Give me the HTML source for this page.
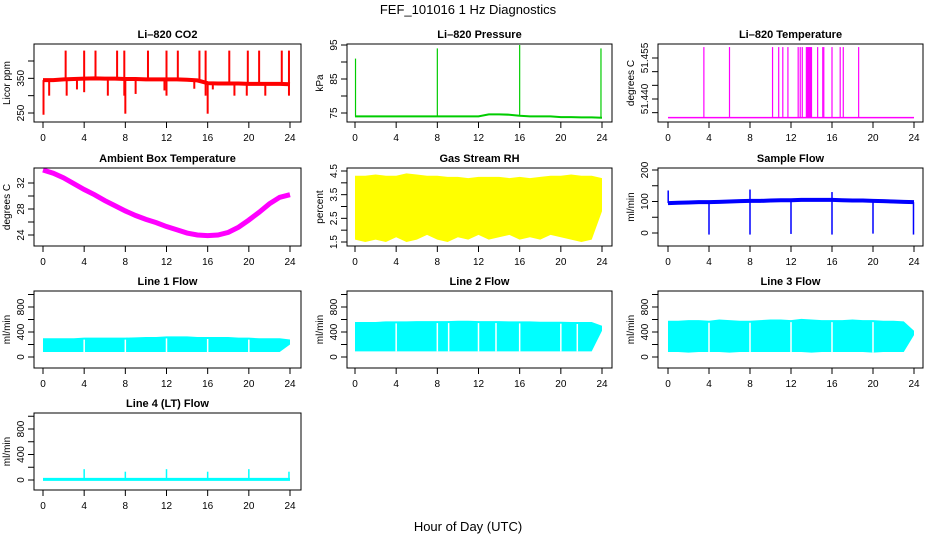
<!DOCTYPE html>
<html><head><meta charset="utf-8"><style>
html,body{margin:0;padding:0;background:#fff}
svg{display:block;font-family:"Liberation Sans",sans-serif}
</style></head><body>
<svg id="c" width="936" height="540" viewBox="0 0 936 540">
<text x="468" y="14" text-anchor="middle" font-size="13">FEF_101016  1 Hz Diagnostics</text>
<text x="468" y="531" text-anchor="middle" font-size="13">Hour of Day (UTC)</text>
</svg>
<script>
const hours=[0,1,2,3,4,5,6,7,8,9,10,11,12,13,14,15,16,17,18,19,20,21,22,23,24];
const xTicks=[0,4,8,12,16,20,24];
// CO2
const co2Base=[345,345,347,348,349,350,349,349,348,348,347,347,347,347,346,344,336,335,335,335,334,334,334,334,333];
const co2SpikeH=[2.2,4.0,5.1,7.2,7.9,10.2,12.0,13.1,15.2,15.8,18.1,19.9,21.0,23.2,23.9];
const co2SpikeV=[430,430,430,430,430,430,430,430,430,430,430,430,430,430,430];
const co2DipH=[0.05,0.6,2.3,3.3,4.0,6.3,7.9,8.0,9.0,11.8,12.0,14.7,15.8,16.0,16.5,18.6,19.8,21.6,23.9];
const co2DipV=[245,300,300,318,310,300,300,248,305,315,300,320,300,248,318,300,300,300,300];
// Pressure
const presBase=[74,74,74,74,74,74,74,74,74,74,74,74,74,74.6,74.6,74.5,74.2,74,74,74,73.8,73.8,73.7,73.7,73.6];
const presSpikeH=[0.05,8.0,16.0,23.9];
const presSpikeV=[91,94,95,94];
// Li-820 temperature
const ltBase=51.4332;
const ltSpikeH=[3.5,6.0,10.2,10.8,11.2,11.7,12.7,12.9,13.1,13.5,13.6,13.7,13.8,13.9,14.0,14.6,15.1,15.2,16.0,16.8,17.1,18.6];
const ltSpikeV=[51.459,51.459,51.459,51.459,51.459,51.459,51.459,51.459,51.459,51.459,51.459,51.459,51.459,51.459,51.459,51.459,51.459,51.459,51.459,51.459,51.459,51.459];
// Ambient box temperature
const ambVals=[34,33.5,32.8,31.9,31,30.2,29.3,28.5,27.7,27,26.4,25.9,25.3,24.8,24.3,24,23.9,24,24.4,25.2,26.3,27.5,28.8,29.8,30.2];
// Gas stream RH
const rhHigh=[4.3,4.3,4.35,4.3,4.3,4.4,4.35,4.3,4.3,4.25,4.25,4.2,4.25,4.25,4.25,4.2,4.25,4.2,4.25,4.3,4.3,4.35,4.3,4.3,4.2];
const rhLow=[1.6,1.5,1.6,1.5,1.7,1.5,1.6,1.8,1.6,1.5,1.7,1.6,1.8,1.6,1.7,1.8,1.6,1.7,1.6,1.8,1.7,1.6,1.5,1.6,2.8];
// Sample flow
const sfBase=[95,96,97,98,98,99,100,101,102,102,103,104,104,105,105,105,105,104,103,103,102,101,100,99,98];
const sfDipH=[4,8,12,16,20,23.95];
const sfDipV=[-5,-5,-3,-5,-2,-5];
const sfSpikeH=[0.02,8.0,16.0];
const sfSpikeV=[135,138,130];
// Line flows
const l1High=[300,300,300,300,310,310,310,310,310,315,320,320,330,330,330,320,320,320,320,310,310,300,300,300,280];
const l1Low=[80,80,80,80,80,80,80,80,80,80,80,80,80,80,80,80,80,80,80,80,80,80,80,80,200];
const l1GapH=[4,8,12,16,20];
const l2High=[560,560,560,570,570,570,575,575,575,575,580,580,575,575,575,570,570,570,565,565,565,560,560,560,500];
const l2Low=[90,90,90,90,90,90,90,90,90,90,90,90,90,90,90,90,90,90,90,90,90,90,90,90,420];
const l2GapH=[4,8,9.1,12,13.7,16,20,21.6];
const l3High=[580,580,590,590,580,600,590,580,580,590,600,600,590,610,600,590,590,590,600,590,590,580,580,570,420];
const l3Low=[80,80,70,80,80,80,70,80,80,80,80,80,80,80,70,80,80,80,80,80,70,80,80,80,350];
const l3GapH=[4,8,12,16,20];
// Line 4 flow
const l4Base=[10,10,10,10,10,10,10,10,10,10,10,10,10,10,10,10,10,10,10,10,10,10,10,10,10];
const l4SpikeH=[4,8,12,16,20,23.9];
const l4SpikeV=[170,130,170,130,170,130];

const NS="http://www.w3.org/2000/svg";
const svg=document.getElementById('c');
function mk(tag,attrs,parent){const e=document.createElementNS(NS,tag);for(const k in attrs)e.setAttribute(k,attrs[k]);(parent||svg).appendChild(e);return e;}
const cols=[{bx:34,bw:267,x0:43,x1:290,yl:10},{bx:347,bw:265,x0:355,x1:602,yl:323},{bx:658,bw:265,x0:668,x1:914,yl:634}];
const rows=[{by:44,bh:78},{by:168,bh:78},{by:291,bh:77},{by:413,bh:77}];

function panel(o){
  const c=cols[o.col],r=rows[o.row];
  const g=mk('g',{});
  
  
  const X=h=>c.x0+(h/24)*(c.x1-c.x0);
  const Y=v=>o.py0+(v-o.v0)/(o.v1-o.v0)*(o.py1-o.py0);
  const t=mk('text',{x:c.bx+c.bw/2,y:r.by-6,'text-anchor':'middle','font-size':11,'font-weight':'bold'},g);
  t.textContent=o.title;
  
  
  const plot=mk('g',{},g);
  
  
  o.draw(plot,X,Y);
  const box=mk('rect',{x:c.bx,y:r.by,width:c.bw,height:r.bh,fill:'none',stroke:'#000','stroke-width':1},g);
  
  
  const xa=mk('g',{stroke:'#000','stroke-width':1},g);
  
  
  const yb=r.by+r.bh;
  mk('line',{x1:X(0),x2:X(24),y1:yb,y2:yb},xa);
  xTicks.forEach(h=>{
    mk('line',{x1:X(h),x2:X(h),y1:yb,y2:yb+6},xa);
    const tl=mk('text',{x:X(h),y:yb+19,'text-anchor':'middle','font-size':10,stroke:'none',fill:'#000'},xa);
    tl.textContent=h;
    
    
  });
  const ya=mk('g',{stroke:'#000','stroke-width':1},g);
  
  
  const yt=o.ticks;
  mk('line',{x1:c.bx,x2:c.bx,y1:Y(yt[0]),y2:Y(yt[yt.length-1])},ya);
  yt.forEach(v=>{
    mk('line',{x1:c.bx-6,x2:c.bx,y1:Y(v),y2:Y(v)},ya);
  });
  o.labels.forEach((v,i)=>{
    const lx=c.bx-10,ly=Y(v);
    const tl=mk('text',{x:lx,y:ly,'text-anchor':'middle','font-size':10,stroke:'none',fill:'#000',transform:`rotate(-90 ${lx} ${ly})`},ya);
    tl.textContent=o.labelText?o.labelText[i]:v;
    
    
  });
  const yly=r.by+r.bh/2;
  const yl=mk('text',{x:c.yl,y:yly,'text-anchor':'middle','font-size':10,transform:`rotate(-90 ${c.yl} ${yly})`},g);
  yl.textContent=o.ylab;
  
  
}
function linePath(p,X,Y,xs,vs,col,w){
  mk('polyline',{points:xs.map((h,i)=>X(h)+','+Y(vs[i])).join(' '),fill:'none',stroke:col,'stroke-width':w},p);
}
function spikes(p,X,Y,hs,vs,base,col,w){
  hs.forEach((h,i)=>{const b=Array.isArray(base)?base[Math.round(h)]:base;
    mk('line',{x1:X(h),x2:X(h),y1:Y(b),y2:Y(vs[i]),stroke:col,'stroke-width':w},p);});
}
function band(p,X,Y,hs,hi,lo,col){
  const pts=hs.map((h,i)=>X(h)+','+Y(hi[i])).concat(hs.slice().reverse().map((h,j)=>X(h)+','+Y(lo[hs.length-1-j])));
  mk('polygon',{points:pts.join(' '),fill:col,stroke:'none'},p);
}
function gaps(p,X,Y,hs,hi,lo){
  hs.forEach(h=>{const i=Math.round(h);mk('line',{x1:X(h),x2:X(h),y1:Y(hi[i])+2,y2:Y(lo[i]),stroke:'#fff','stroke-width':1.5},p);});
}

panel({name:'co2-panel',title:'Li\u2013820 CO2',ylab:'Licor ppm',col:0,row:0,v0:250,py0:113,v1:400,py1:61,ticks:[250,300,350,400],labels:[250,350],
 draw:(p,X,Y)=>{linePath(p,X,Y,hours,co2Base,'#f00',4);spikes(p,X,Y,co2SpikeH,co2SpikeV,co2Base,'#f00',2);spikes(p,X,Y,co2DipH,co2DipV,co2Base,'#f00',2);}});
panel({name:'pressure-panel',title:'Li\u2013820 Pressure',ylab:'kPa',col:1,row:0,v0:75,py0:113,v1:95,py1:45,ticks:[75,80,85,90,95],labels:[75,85,95],
 draw:(p,X,Y)=>{linePath(p,X,Y,hours,presBase,'#0c0',2);spikes(p,X,Y,presSpikeH,presSpikeV,presBase,'#0c0',1.2);}});
panel({name:'licor-temperature-panel',title:'Li\u2013820 Temperature',ylab:'degrees C',col:2,row:0,v0:51.440,py0:99,v1:51.455,py1:58,ticks:[51.435,51.440,51.445,51.450,51.455],labels:[51.440,51.455],labelText:['51.440','51.455'],
 draw:(p,X,Y)=>{mk('line',{x1:X(0),x2:X(24),y1:Y(ltBase),y2:Y(ltBase),stroke:'#f0f','stroke-width':1.5},p);spikes(p,X,Y,ltSpikeH,ltSpikeV,ltBase,'#f0f',1.2);}});
panel({name:'ambient-temperature-panel',title:'Ambient Box Temperature',ylab:'degrees C',col:0,row:1,v0:24,py0:235,v1:32,py1:183,ticks:[24,26,28,30,32],labels:[24,28,32],
 draw:(p,X,Y)=>{linePath(p,X,Y,hours,ambVals,'#f0f',5);}});
panel({name:'rh-panel',title:'Gas Stream RH',ylab:'percent',col:1,row:1,v0:1.5,py0:242,v1:4.5,py1:171,ticks:[1.5,2,2.5,3,3.5,4,4.5],labels:[1.5,2.5,3.5,4.5],
 draw:(p,X,Y)=>{band(p,X,Y,hours,rhHigh,rhLow,'#ff0');}});
panel({name:'sample-flow-panel',title:'Sample Flow',ylab:'ml/min',col:2,row:1,v0:0,py0:233,v1:200,py1:170,ticks:[0,50,100,150,200],labels:[0,100,200],
 draw:(p,X,Y)=>{linePath(p,X,Y,hours,sfBase,'#00f',4);spikes(p,X,Y,sfDipH,sfDipV,sfBase,'#00f',1.5);spikes(p,X,Y,sfSpikeH,sfSpikeV,sfBase,'#00f',1.5);}});
const flowT=[0,200,400,600,800,1000],flowL=[0,400,800];
panel({name:'line1-flow-panel',title:'Line 1 Flow',ylab:'ml/min',col:0,row:2,v0:0,py0:357,v1:800,py1:307,ticks:flowT,labels:flowL,
 draw:(p,X,Y)=>{band(p,X,Y,hours,l1High,l1Low,'#0ff');gaps(p,X,Y,l1GapH,l1High,l1Low);}});
panel({name:'line2-flow-panel',title:'Line 2 Flow',ylab:'ml/min',col:1,row:2,v0:0,py0:357,v1:800,py1:307,ticks:flowT,labels:flowL,
 draw:(p,X,Y)=>{band(p,X,Y,hours,l2High,l2Low,'#0ff');gaps(p,X,Y,l2GapH,l2High,l2Low);}});
panel({name:'line3-flow-panel',title:'Line 3 Flow',ylab:'ml/min',col:2,row:2,v0:0,py0:357,v1:800,py1:307,ticks:flowT,labels:flowL,
 draw:(p,X,Y)=>{band(p,X,Y,hours,l3High,l3Low,'#0ff');gaps(p,X,Y,l3GapH,l3High,l3Low);}});
panel({name:'line4-flow-panel',title:'Line 4 (LT) Flow',ylab:'ml/min',col:0,row:3,v0:0,py0:480,v1:800,py1:429,ticks:flowT,labels:flowL,
 draw:(p,X,Y)=>{linePath(p,X,Y,hours,l4Base,'#0ff',3);spikes(p,X,Y,l4SpikeH,l4SpikeV,l4Base,'#0ff',1.5);}});
</script>
</body></html>
